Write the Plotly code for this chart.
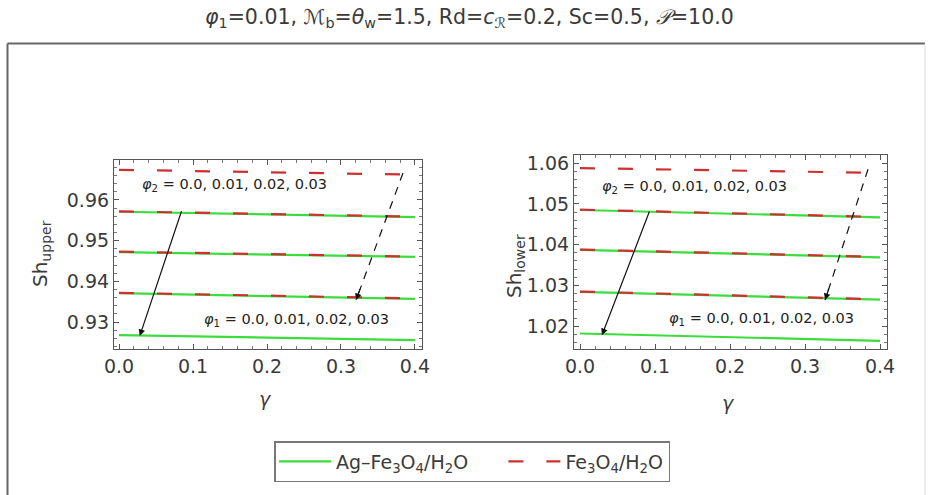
import plotly.graph_objects as go

W, H = 928, 495

# ---------------- data ----------------
gamma = [0.0, 0.4]

# left panel: Sh_upper
upper_hybrid = [  # Ag-Fe3O4/H2O  (phi1 = 0.0 ... 0.03)
    [0.9571, 0.9558],
    [0.9472, 0.9460],
    [0.9371, 0.9357],
    [0.9268, 0.9256],
]
upper_mono = [    # Fe3O4/H2O  (phi2 = 0.0 ... 0.03)
    [0.9674, 0.9662],
    [0.9572, 0.9559],
    [0.9473, 0.9461],
    [0.9372, 0.9358],
]

# right panel: Sh_lower
lower_hybrid = [
    [1.0485, 1.0467],
    [1.0387, 1.0369],
    [1.0284, 1.0265],
    [1.0182, 1.0164],
]
lower_mono = [
    [1.0588, 1.0576],
    [1.0486, 1.0468],
    [1.0388, 1.0370],
    [1.0285, 1.0266],
]

x_ticks = [0.0, 0.1, 0.2, 0.3, 0.4]
x_ticklabels = ["0.0", "0.1", "0.2", "0.3", "0.4"]
upper_ticks = [0.93, 0.94, 0.95, 0.96]
lower_ticks = [1.02, 1.03, 1.04, 1.05, 1.06]

names = ["Ag–Fe<sub>3</sub>O<sub>4</sub>/H<sub>2</sub>O\u00a0\u00a0\u00a0\u00a0\u00a0",
         "Fe<sub>3</sub>O<sub>4</sub>/H<sub>2</sub>O"]
title_text = ("<i>φ</i><sub>1</sub>=0.01, <i>ℳ</i><sub>b</sub>=<i>θ</i><sub>w</sub>=1.5, "
              "Rd=<i>c</i><sub>ℛ</sub>=0.2, Sc=0.5, <i>𝒫</i>=10.0")
phi2_text = "<i>φ</i><sub>2</sub> = 0.0, 0.01, 0.02, 0.03"
phi1_text = "<i>φ</i><sub>1</sub> = 0.0, 0.01, 0.02, 0.03"

GREEN = "#3ddc3d"
RED = "#cc3030"
FONT = "DejaVu Sans, Liberation Sans, Arial, sans-serif"
TXT = "#3a3a3a"

fig = go.Figure()

def px2x(p):
    return p / W

def py2y(p):
    return 1 - p / H

for xa, ya, hyb, mono in [("x", "y", upper_hybrid, upper_mono), ("x2", "y2", lower_hybrid, lower_mono)]:
    for i, vals in enumerate(hyb):
        fig.add_trace(go.Scatter(x=gamma, y=vals, mode="lines", xaxis=xa, yaxis=ya,
                                 line=dict(color=GREEN, width=2.2),
                                 name=names[0], legendgroup="g",
                                 showlegend=(xa == "x" and i == 0)))
    for i, vals in enumerate(mono):
        fig.add_trace(go.Scatter(x=gamma, y=vals, mode="lines", xaxis=xa, yaxis=ya,
                                 line=dict(color=RED, width=2.2, dash="15px,23px"),
                                 name=names[1], legendgroup="r",
                                 showlegend=(xa == "x" and i == 0)))

axis_common = dict(showline=True, linecolor="#555", linewidth=1.2, mirror="ticks",
                   ticks="inside", ticklen=5, tickcolor="#555", tickwidth=1,
                   showgrid=False, zeroline=False, automargin=False,
                   tickfont=dict(family=FONT, size=19, color=TXT))

fig.update_layout(
    width=W, height=H, margin=dict(l=0, r=0, t=0, b=0, autoexpand=False),
    paper_bgcolor="white", plot_bgcolor="white",
    xaxis=dict(domain=[px2x(114), px2x(422)], range=[-0.0068, 0.4095], anchor="y",
               tickvals=x_ticks, ticktext=x_ticklabels,
               minor=dict(ticks="inside", ticklen=2.5, dtick=0.02, tickcolor="#777"),
               **axis_common),
    yaxis=dict(domain=[py2y(349), py2y(160)], range=[0.9234, 0.9698], anchor="x",
               tickvals=upper_ticks, tickformat=".2f",
               minor=dict(ticks="inside", ticklen=2.5, dtick=0.002, tickcolor="#777"),
               **axis_common),
    xaxis2=dict(domain=[px2x(574), px2x(887)], range=[-0.008, 0.4093], anchor="y2",
                tickvals=x_ticks, ticktext=x_ticklabels,
                minor=dict(ticks="inside", ticklen=2.5, dtick=0.02, tickcolor="#777"),
                **axis_common),
    yaxis2=dict(domain=[py2y(349), py2y(155)], range=[1.0144, 1.062], anchor="x2",
                tickvals=lower_ticks, tickformat=".2f",
                minor=dict(ticks="inside", ticklen=2.5, dtick=0.002, tickcolor="#777"),
                **axis_common),
    showlegend=True,
    legend=dict(orientation="h", x=px2x(274), y=py2y(441), xanchor="left", yanchor="top",
                bordercolor="#777", borderwidth=1.5, bgcolor="white",
                font=dict(family=FONT, size=19, color=TXT),
                itemwidth=52, tracegroupgap=0),
)

annotations = []

def text_ann(xp, yp, text, size, color=TXT, angle=0):
    return dict(xref="paper", yref="paper", x=px2x(xp), y=py2y(yp), text=text,
                xanchor="center", yanchor="middle", textangle=angle,
                showarrow=False, font=dict(family=FONT, size=size, color=color))

# title
annotations.append(text_ann(469, 18, title_text, 20.5))
# axis titles
annotations.append(text_ann(41, 254, "Sh<sub>upper</sub>", 20, angle=-90))
annotations.append(text_ann(515, 266, "Sh<sub>lower</sub>", 20, angle=-90))
annotations.append(text_ann(265, 399, "<i>γ</i>", 19))
annotations.append(text_ann(728, 403, "<i>γ</i>", 19))
# parameter texts
for xp, yp, t in [(234, 185, phi2_text), (296, 320, phi1_text), (694, 187, phi2_text), (761, 319, phi1_text)]:
    annotations.append(text_ann(xp, yp, t, 14.5, color="#222"))

# solid arrows (tail -> head), data coords
solid_arrows = [("x", "y", (0.0851, 0.9576), (0.028, 0.9266)),
                ("x2", "y2", (0.0933, 1.0485), (0.0293, 1.0178))]
for xa, ya, tail, head in solid_arrows:
    annotations.append(dict(xref=xa, yref=ya, axref=xa, ayref=ya, x=head[0], y=head[1],
                            ax=tail[0], ay=tail[1], text="", showarrow=True,
                            arrowhead=2, arrowsize=1.1, arrowwidth=1.2, arrowcolor="#111"))

# dashed arrows
dashed_arrows = [("x", "y", (0.3838, 0.9666), (0.3203, 0.9354)),
                 ("x2", "y2", (0.384, 1.0585), (0.3267, 1.0264))]
shapes = []
for xa, ya, tail, head in dashed_arrows:
    shapes.append(dict(type="line", xref=xa, yref=ya, x0=tail[0], y0=tail[1], x1=head[0], y1=head[1],
                       line=dict(color="#111", width=1.2, dash="8px,7px")))
    annotations.append(dict(xref=xa, yref=ya, axref=xa, ayref=ya, x=head[0], y=head[1],
                            ax=head[0] + 0.1 * (tail[0] - head[0]), ay=head[1] + 0.1 * (tail[1] - head[1]),
                            text="", showarrow=True,
                            arrowhead=2, arrowsize=1.1, arrowwidth=1.2, arrowcolor="#111"))

# outer frame
shapes.append(dict(type="line", xref="paper", yref="paper", x0=px2x(7.5), x1=px2x(925), y0=py2y(43.5), y1=py2y(43.5),
                   line=dict(color="#666", width=2)))
shapes.append(dict(type="line", xref="paper", yref="paper", x0=px2x(7.5), x1=px2x(7.5), y0=py2y(43.5), y1=py2y(500),
                   line=dict(color="#666", width=2)))
shapes.append(dict(type="line", xref="paper", yref="paper", x0=px2x(925), x1=px2x(925), y0=py2y(43.5), y1=py2y(500),
                   line=dict(color="#ddd", width=1)))

fig.update_layout(annotations=annotations, shapes=shapes)
fig.write_html("out.html")
